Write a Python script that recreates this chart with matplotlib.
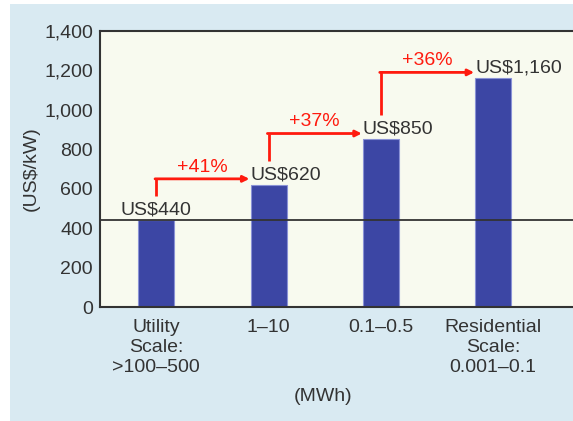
import matplotlib.pyplot as plt
from matplotlib.patches import Rectangle
import numpy as np

plt.rcParams['font.family'] = ['Liberation Sans', 'DejaVu Sans']

categories = ["Utility\nScale:\n>100\u2013500", "1\u201310", "0.1\u20130.5", "Residential\nScale:\n0.001\u20130.1"]
costs = [440, 620, 850, 1160]
cost_labels = ["US$440", "US$620", "US$850", "US$1,160"]
increase_labels = ["+41%", "+37%", "+36%"]
yticks = [0, 200, 400, 600, 800, 1000, 1200, 1400]

text_col = '#333333'
bar_col = '#3c46a4'
arrow_col = '#ff1a0e'
fs = 14

fig = plt.figure(figsize=(5.73, 4.21), dpi=100)
fig.patches.append(Rectangle((10 / 573, 0), 563 / 573, 417 / 421,
                             transform=fig.transFigure, facecolor='#d9eaf2',
                             edgecolor='none', zorder=-10))

ax = fig.add_axes([100 / 573, 114 / 421, 473 / 573, 276 / 421])
ax.set_facecolor('#f8faef')

x = np.arange(len(costs))
ax.bar(x, costs, width=0.32, color=bar_col, edgecolor='#8a92d6', linewidth=0.8, zorder=2)
ax.axhline(costs[0], color=text_col, lw=1.3, zorder=3)

# price labels above each bar
ax.text(x[0], costs[0] + 8, cost_labels[0], ha='center', va='bottom',
        fontsize=fs, color=text_col, zorder=4)
for i in range(1, len(costs)):
    ax.text(x[i] - 0.16, costs[i] + 8, cost_labels[i], ha='left', va='bottom',
            fontsize=fs, color=text_col, zorder=4)

# step arrows between neighbouring bars
for i, lab in enumerate(increase_labels):
    y0 = costs[i] + 122
    y1 = costs[i + 1] + 30
    ax.plot([x[i], x[i]], [y0, y1], color=arrow_col, lw=2, solid_capstyle='butt', zorder=4)
    ax.annotate('', xy=(x[i + 1] - 0.17, y1), xytext=(x[i] - 0.01, y1),
                arrowprops=dict(arrowstyle='-|>', color=arrow_col, lw=2,
                                mutation_scale=9, shrinkA=0, shrinkB=0), zorder=4)
    ax.text(x[i] + 0.41, y1 + 16, lab, ha='center', va='bottom',
            fontsize=fs, color=arrow_col, zorder=4)

ax.set_xlim(-0.5, 3.71)
ax.set_ylim(0, 1400)
ax.set_yticks(yticks)
ax.set_yticklabels([f"{v:,}" for v in yticks])
ax.set_xticks(x)
ax.set_xticklabels(categories)
ax.tick_params(axis='both', length=0, labelsize=fs, labelcolor=text_col)
ax.tick_params(axis='y', pad=5)
ax.tick_params(axis='x', pad=9)

ax.set_ylabel("(US$/kW)", fontsize=fs, color=text_col, labelpad=3)
ax.set_xlabel("(MWh)", fontsize=fs, color=text_col)
ax.xaxis.set_label_coords(0.471, -0.295)

for side in ['left', 'bottom', 'top']:
    ax.spines[side].set_color(text_col)
    ax.spines[side].set_linewidth(1.5)
ax.spines['right'].set_visible(False)

fig.savefig('out.png', dpi=100)
